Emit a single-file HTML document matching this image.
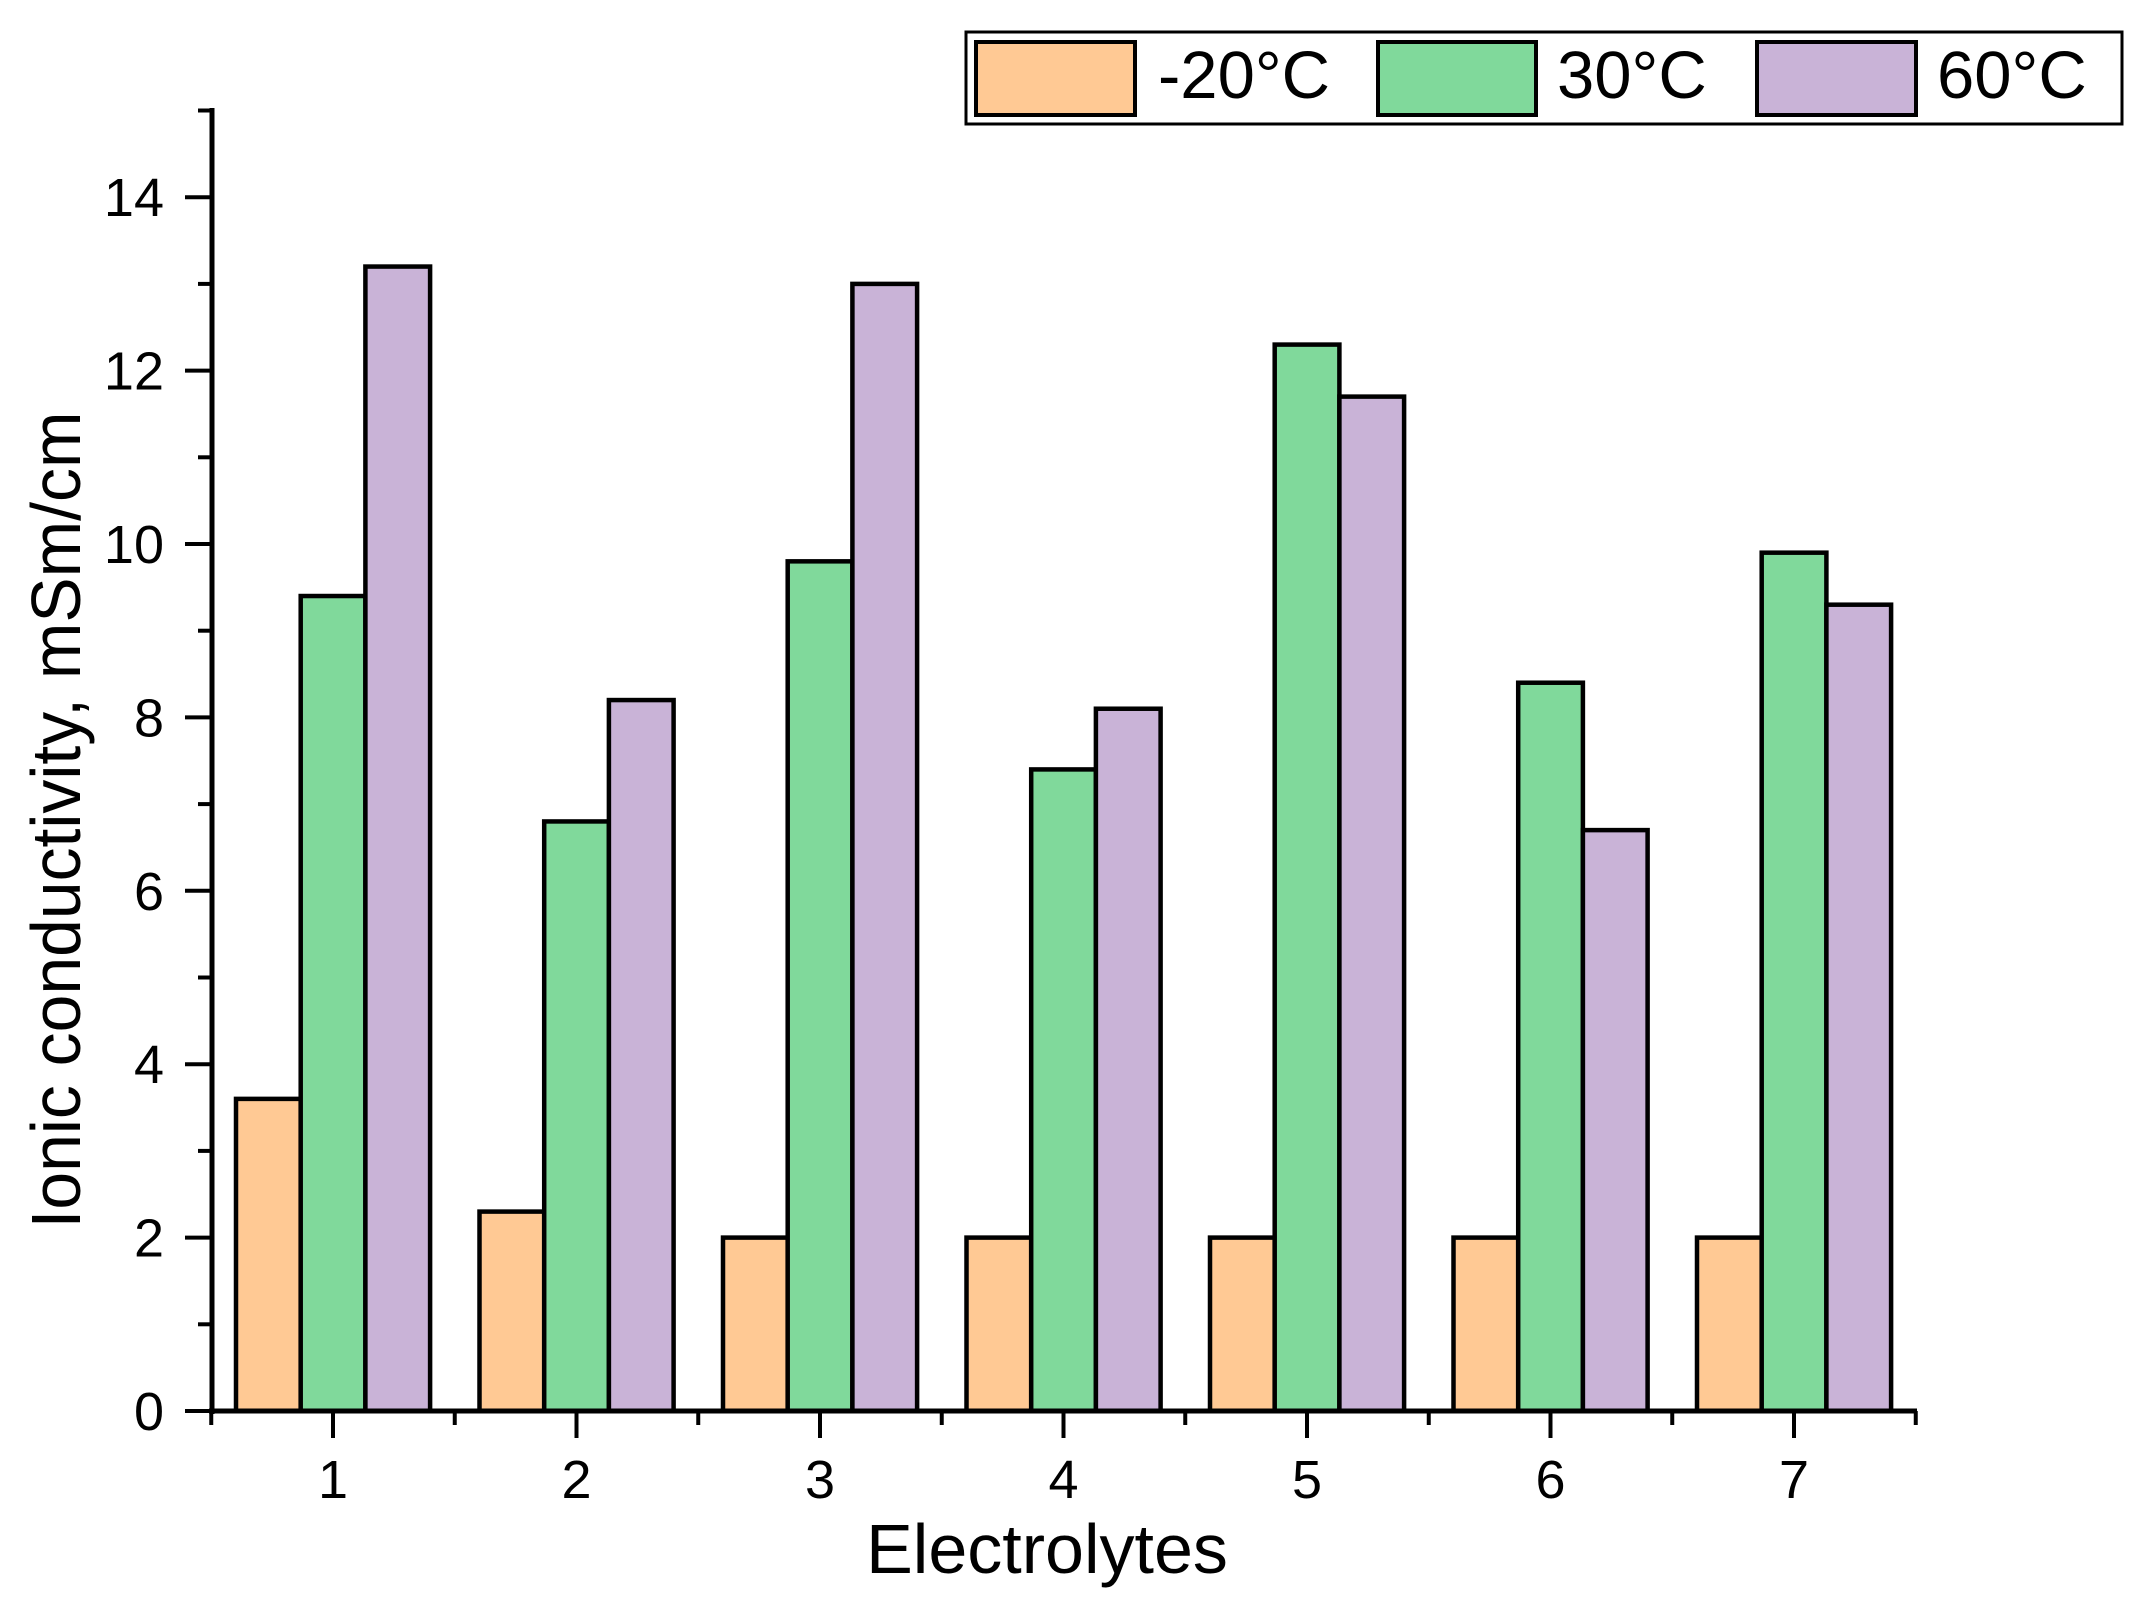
<!DOCTYPE html>
<html><head><meta charset="utf-8"><style>html,body{margin:0;padding:0;background:#fff}svg{display:block}</style></head>
<body>
<svg width="2151" height="1619" viewBox="0 0 2151 1619" xmlns="http://www.w3.org/2000/svg" font-family="Liberation Sans, sans-serif">
<rect width="2151" height="1619" fill="#fff"/>
<g id="bars" stroke="#000" stroke-width="4.5"></g>
<g id="ax" stroke="#000" stroke-width="4"></g>
<line x1="212" y1="108" x2="212" y2="1414" stroke="#000" stroke-width="5"/>
<line x1="209" y1="1411" x2="1917" y2="1411" stroke="#000" stroke-width="5"/>
<text x="1047" y="1573" font-size="70" text-anchor="middle">Electrolytes</text>
<text transform="translate(80,820) rotate(-90)" font-size="70" text-anchor="middle" textLength="817" lengthAdjust="spacingAndGlyphs">Ionic conductivity, mSm/cm</text>
<rect x="966" y="32" width="1156" height="92" fill="#fff" stroke="#000" stroke-width="3"/>
<rect x="976" y="42" width="159" height="73" fill="#ffc994" stroke="#000" stroke-width="4"/>
<text x="1158" y="98" font-size="67">-20°C</text>
<rect x="1378" y="42" width="158" height="73" fill="#80d99b" stroke="#000" stroke-width="4"/>
<text x="1557" y="98" font-size="67">30°C</text>
<rect x="1757" y="42" width="159" height="73" fill="#c9b3d7" stroke="#000" stroke-width="4"/>
<text x="1937" y="98" font-size="67">60°C</text>
<script>
(function(){
var vals=[[3.6,9.4,13.2],[2.3,6.8,8.2],[2.0,9.8,13.0],[2.0,7.4,8.1],[2.0,12.3,11.7],[2.0,8.4,6.7],[2.0,9.9,9.3]];
var cols=["#ffc994","#80d99b","#c9b3d7"];
var y0=1411,u=86.7,ns="http://www.w3.org/2000/svg",g=document.getElementById("bars");
for(var i=0;i<7;i++){var c=333+243.5*i;for(var j=0;j<3;j++){var x=c-97+j*64.7,h=vals[i][j]*u;var r=document.createElementNS(ns,"rect");r.setAttribute("x",x);r.setAttribute("y",y0-h);r.setAttribute("width",64.7);r.setAttribute("height",h);r.setAttribute("fill",cols[j]);g.appendChild(r);}}
var ax=document.getElementById("ax");
for(var v=0;v<=15;v++){var y=y0-v*u;var l=document.createElementNS(ns,"line");l.setAttribute("x1",v%2==0?185:198);l.setAttribute("x2",212);l.setAttribute("y1",y);l.setAttribute("y2",y);ax.appendChild(l);
if(v%2==0){var t=document.createElementNS(ns,"text");t.setAttribute("x",164);t.setAttribute("y",y+19);t.setAttribute("text-anchor","end");t.setAttribute("font-size","54");t.setAttribute("stroke","none");t.textContent=v;ax.appendChild(t);}}
for(var k=0;k<=14;k++){var x=211.25+k*121.75;var l=document.createElementNS(ns,"line");l.setAttribute("x1",x);l.setAttribute("x2",x);l.setAttribute("y1",1411);l.setAttribute("y2",k%2==1?1438:1425);ax.appendChild(l);
if(k%2==1){var t=document.createElementNS(ns,"text");t.setAttribute("x",x);t.setAttribute("y",1498);t.setAttribute("text-anchor","middle");t.setAttribute("font-size","54");t.setAttribute("stroke","none");t.textContent=(k+1)/2;ax.appendChild(t);}}
})();
</script>
</svg>
</body></html>
